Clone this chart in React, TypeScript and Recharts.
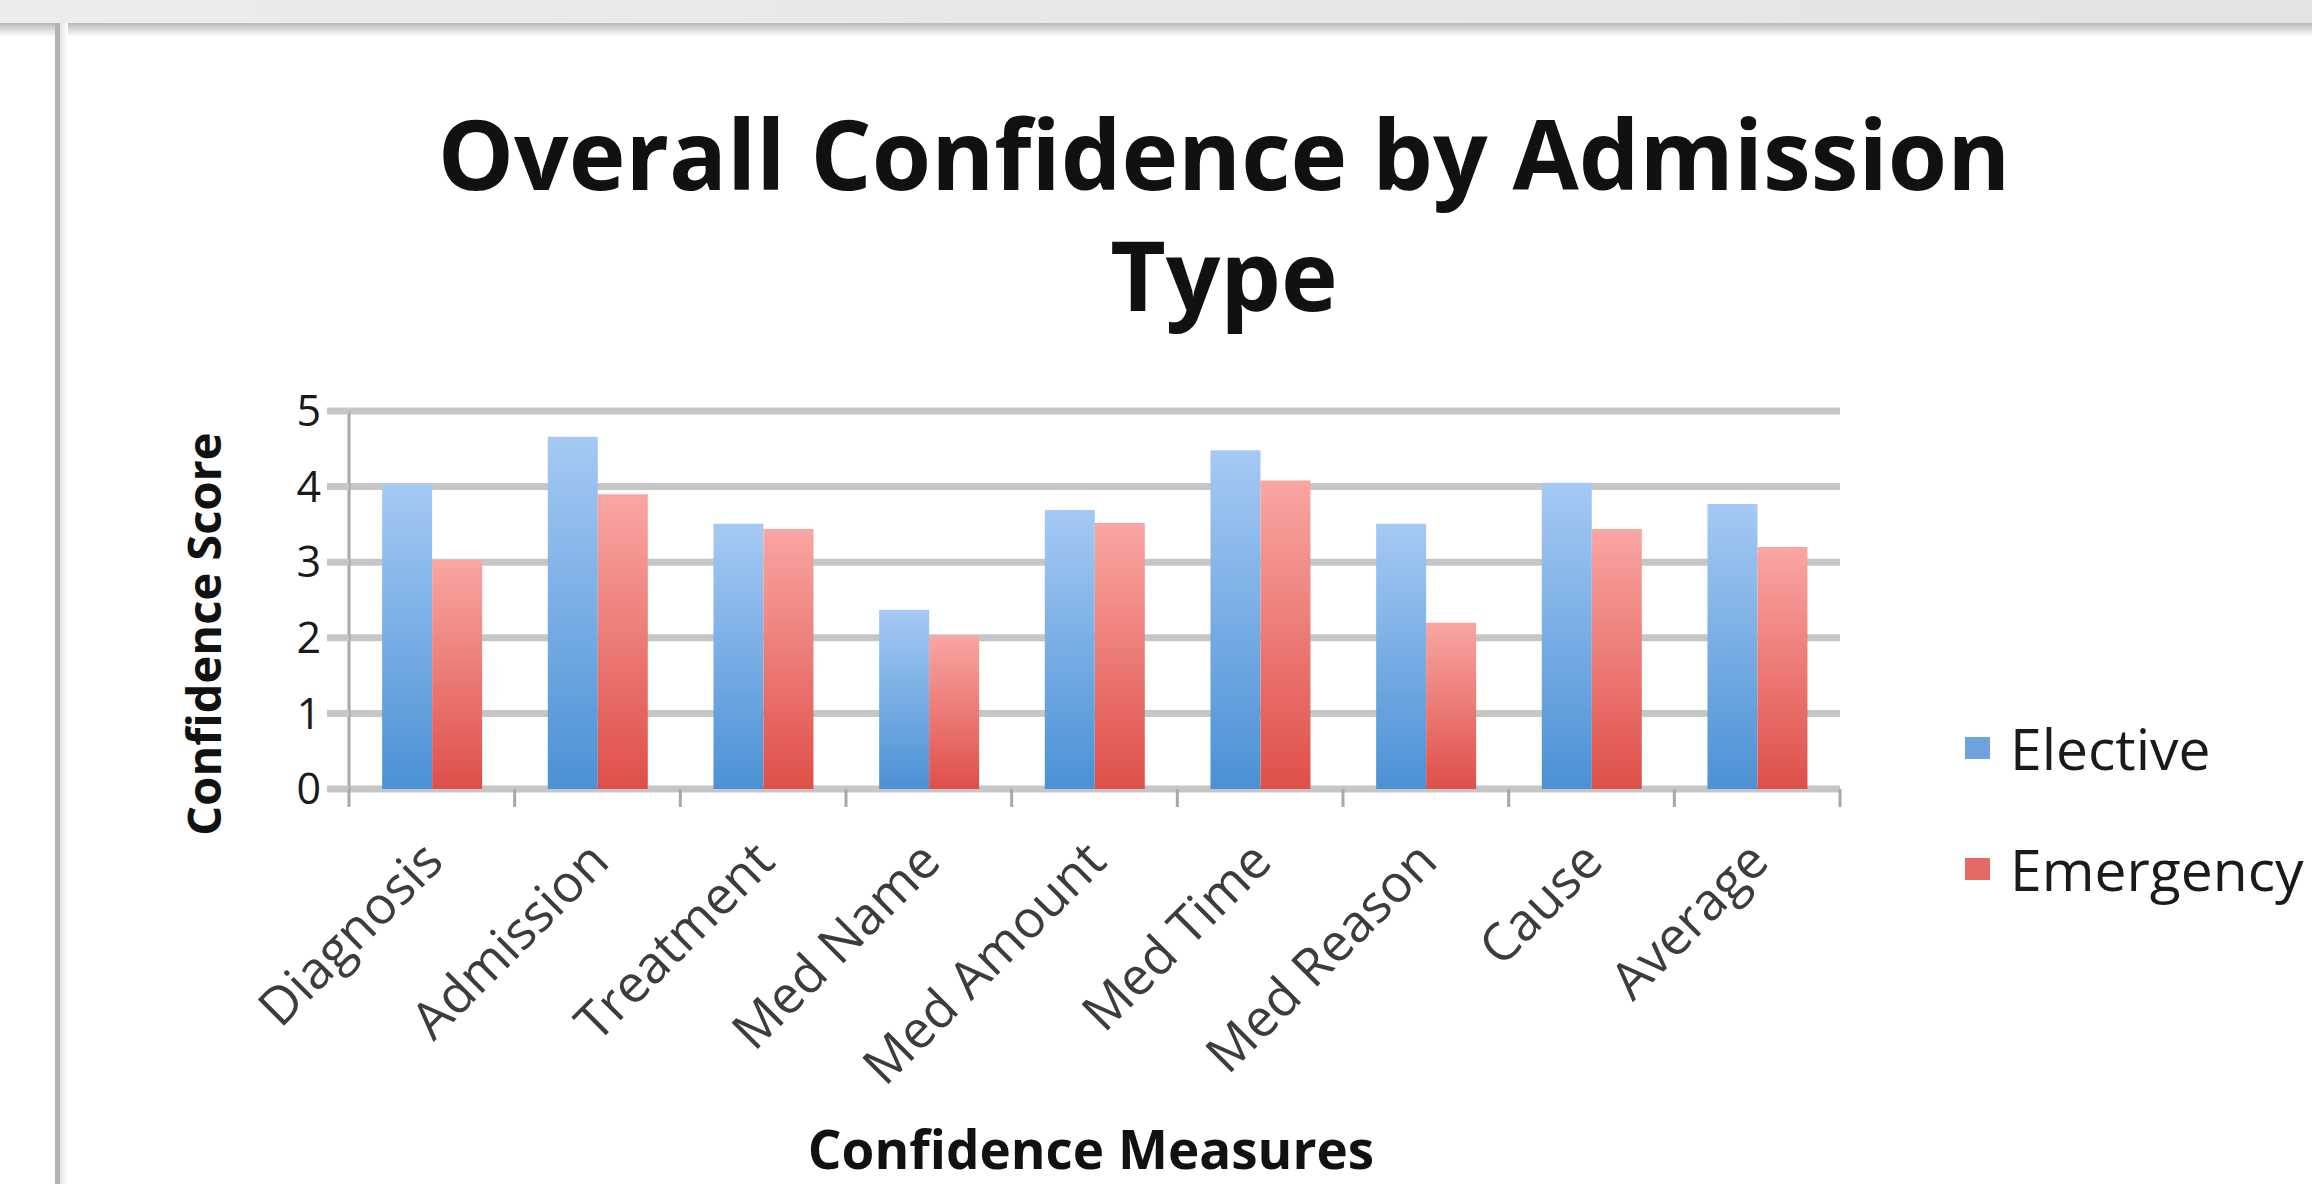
import React from "react";
import { BarChart, Bar, XAxis, YAxis, CartesianGrid, Legend } from "recharts";

const FONT = '"Open Sans", "DejaVu Sans", sans-serif';

const categories = [
  "Diagnosis",
  "Admission",
  "Treatment",
  "Med Name",
  "Med Amount",
  "Med Time",
  "Med Reason",
  "Cause",
  "Average",
];
const elective = [4.03, 4.66, 3.51, 2.37, 3.69, 4.48, 3.51, 4.05, 3.77];
const emergency = [3.03, 3.9, 3.44, 2.03, 3.52, 4.08, 2.2, 3.44, 3.2];
const yTicks = [0, 1, 2, 3, 4, 5];

const data = categories.map((name, i) => ({
  name,
  elective: elective[i],
  emergency: emergency[i],
}));

const GRID = "#c6c6c6";
const TICK = "#a8a8a8";

// category label plus the Excel-style tick marks between categories
function CategoryTick(props: any) {
  const { x, y, payload, index } = props;
  const half = payload.offset ?? 0;
  return (
    <g>
      <line
        x1={x - half}
        x2={x - half}
        y1={y}
        y2={y + 18}
        stroke={TICK}
        strokeWidth={3}
      />
      {index === categories.length - 1 && (
        <line
          x1={x + half}
          x2={x + half}
          y1={y}
          y2={y + 18}
          stroke={TICK}
          strokeWidth={3}
        />
      )}
      <g transform={`translate(${x + 14},${y + 75})`}>
        <text
          textAnchor="end"
          transform="rotate(-45)"
          fontSize={52}
          fill="#3c3c3c"
          fontFamily={FONT}
        >
          {payload.value}
        </text>
      </g>
    </g>
  );
}

function LegendBox() {
  const items = [
    { label: "Elective", color: "#6ea3de" },
    { label: "Emergency", color: "#e56a65" },
  ];
  return (
    <div style={{ fontFamily: FONT }}>
      {items.map((it) => (
        <div
          key={it.label}
          style={{ display: "flex", alignItems: "center", height: 121 }}
        >
          <span
            style={{
              width: 25,
              height: 22,
              background: it.color,
              marginRight: 20,
              display: "inline-block",
            }}
          />
          <span style={{ fontSize: 57, color: "#1a1a1a" }}>{it.label}</span>
        </div>
      ))}
    </div>
  );
}

export default function App() {
  return (
    <div
      style={{
        position: "fixed",
        left: 0,
        top: 0,
        width: 2312,
        height: 1184,
        background: "#ffffff",
        overflow: "hidden",
      }}
    >
      {/* window chrome */}
      <div
        style={{
          position: "absolute",
          left: 0,
          top: 0,
          width: 2312,
          height: 23,
          background: "linear-gradient(to right, #ececec, #e3e3e3)",
        }}
      />
      <div
        style={{
          position: "absolute",
          left: 0,
          top: 23,
          width: 2312,
          height: 14,
          background: "linear-gradient(to bottom, #b9b9b9, #ffffff)",
        }}
      />
      <div
        style={{
          position: "absolute",
          left: 55,
          top: 23,
          width: 5,
          height: 1161,
          background: "#b3b3b3",
        }}
      />
      <div
        style={{
          position: "absolute",
          left: 60,
          top: 23,
          width: 8,
          height: 1161,
          background: "linear-gradient(to right, #e4e4e4, #ffffff)",
        }}
      />

      {/* title */}
      <div
        style={{
          position: "absolute",
          left: 224,
          top: 92,
          width: 2000,
          textAlign: "center",
          fontFamily: FONT,
          fontWeight: 700,
          fontSize: 96,
          lineHeight: "121px",
          color: "#111",
        }}
      >
        Overall Confidence by Admission
        <br />
        Type
      </div>

      {/* axis titles */}
      <div
        style={{
          position: "absolute",
          left: 203,
          top: 634,
          transform: "translate(-50%, -50%) rotate(-90deg)",
          whiteSpace: "nowrap",
          fontFamily: FONT,
          fontWeight: 700,
          fontSize: 47,
          lineHeight: "50px",
          color: "#111",
        }}
      >
        Confidence Score
      </div>
      <div
        style={{
          position: "absolute",
          left: 1091,
          top: 1149,
          transform: "translate(-50%, -50%)",
          whiteSpace: "nowrap",
          fontFamily: FONT,
          fontWeight: 700,
          fontSize: 53,
          lineHeight: "54px",
          color: "#111",
        }}
      >
        Confidence Measures
      </div>

      <div style={{ position: "absolute", left: 0, top: 0 }}>
        <BarChart
          width={2312}
          height={1184}
          data={data}
          margin={{ top: 411, right: 472, left: 229, bottom: 394 }}
          barCategoryGap="20%"
          barGap={0}
        >
          <defs>
            <linearGradient id="gBlue" x1="0" y1="0" x2="0" y2="1">
              <stop offset="0%" stopColor="#a5c9f4" />
              <stop offset="100%" stopColor="#4b91d5" />
            </linearGradient>
            <linearGradient id="gRed" x1="0" y1="0" x2="0" y2="1">
              <stop offset="0%" stopColor="#f9a6a2" />
              <stop offset="100%" stopColor="#df4f49" />
            </linearGradient>
          </defs>
          <CartesianGrid vertical={false} stroke={GRID} strokeWidth={7} />
          <XAxis
            dataKey="name"
            interval={0}
            tickLine={false}
            axisLine={false}
            tickSize={0}
            tickMargin={0}
            height={1}
            tick={<CategoryTick />}
          />
          <YAxis
            domain={[0, 5]}
            ticks={yTicks}
            width={120}
            axisLine={{ stroke: TICK, strokeWidth: 3 }}
            tickLine={{ stroke: GRID, strokeWidth: 7 }}
            tickSize={22}
            tickMargin={6}
            tick={{ fontSize: 43, fill: "#1a1a1a", fontFamily: FONT }}
          />
          <Legend
            layout="vertical"
            align="center"
            verticalAlign="middle"
            wrapperStyle={{ left: 1965, top: 687, width: 347 }}
            content={() => <LegendBox />}
          />
          <Bar
            dataKey="elective"
            name="Elective"
            fill="url(#gBlue)"
            isAnimationActive={false}
          />
          <Bar
            dataKey="emergency"
            name="Emergency"
            fill="url(#gRed)"
            isAnimationActive={false}
          />
        </BarChart>
      </div>
    </div>
  );
}
